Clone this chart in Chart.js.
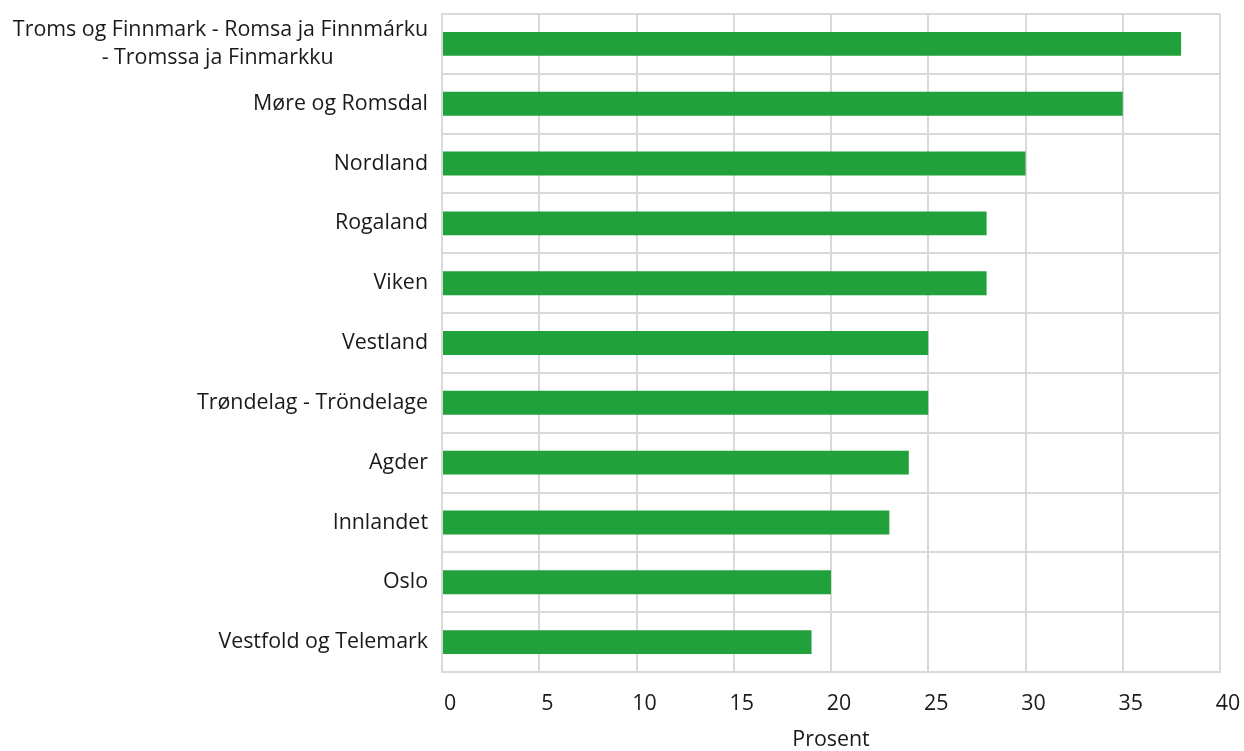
<!DOCTYPE html>
<html>
<head>
<meta charset="utf-8">
<script src="https://cdn.jsdelivr.net/npm/chart.js@4/dist/chart.umd.min.js"></script>
<style>
  html, body { margin: 0; padding: 0; background: #fff; }
  #wrap { width: 1244px; height: 751px; position: relative; }
</style>
</head>
<body>
<div id="wrap"><canvas id="c"></canvas></div>
<script>
// Regions, ordered from highest to lowest share.
// The wrapped second line carries trailing spaces so it sits centred under the first.
const regions = [
  ['Troms og Finnmark - Romsa ja Finnmárku', '- Tromssa ja Finmarkku' + ' '.repeat(17)],
  'Møre og Romsdal',
  'Nordland',
  'Rogaland',
  'Viken',
  'Vestland',
  'Trøndelag - Tröndelage',
  'Agder',
  'Innlandet',
  'Oslo',
  'Vestfold og Telemark'
];
const percentValues = [38, 35, 30, 28, 28, 25, 25, 24, 23, 20, 19];
const axisTitle = 'Prosent';
const axisMin = 0, axisMax = 40, axisStep = 5;

const gridColor = '#d9d9d9';
const textColor = '#1a1a1a';
const fontFamily = '"Open Sans", "Noto Sans", sans-serif';

new Chart(document.getElementById('c'), {
  type: 'bar',
  data: {
    labels: regions,
    datasets: [{
      data: percentValues,
      backgroundColor: '#21a13b',
      borderWidth: 0,
      barPercentage: 0.8,
      categoryPercentage: 0.5
    }]
  },
  options: {
    indexAxis: 'y',
    responsive: true,
    maintainAspectRatio: false,
    animation: false,
    layout: { padding: { top: 14, right: 24, bottom: 0, left: 0 } },
    plugins: { legend: { display: false }, tooltip: { enabled: false } },
    scales: {
      x: {
        min: axisMin, max: axisMax,
        ticks: {
          stepSize: axisStep,
          color: textColor,
          padding: 19,
          labelOffset: 8,
          maxRotation: 0,
          font: { family: fontFamily, size: 21.4 }
        },
        grid: { color: gridColor, lineWidth: 2, drawTicks: false },
        border: { color: gridColor, width: 2 },
        title: {
          display: true,
          text: axisTitle,
          color: textColor,
          padding: { top: 0, bottom: 0 },
          font: { family: fontFamily, size: 21.4, lineHeight: 1.0 }
        },
        afterFit(scale) {
          scale.height = 79;
          scale.paddingLeft = 0;
          scale.paddingRight = 0;
        }
      },
      y: {
        ticks: {
          color: textColor,
          padding: 14,
          autoSkip: false,
          font: { family: fontFamily, size: 21.4, lineHeight: 1.33 }
        },
        grid: { color: gridColor, lineWidth: 2, drawTicks: false, offset: true },
        border: { color: gridColor, width: 2 },
        afterFit(scale) {
          scale.width = 442;
          scale.paddingTop = 0;
          scale.paddingBottom = 0;
        }
      }
    }
  }
});
</script>
</body>
</html>
